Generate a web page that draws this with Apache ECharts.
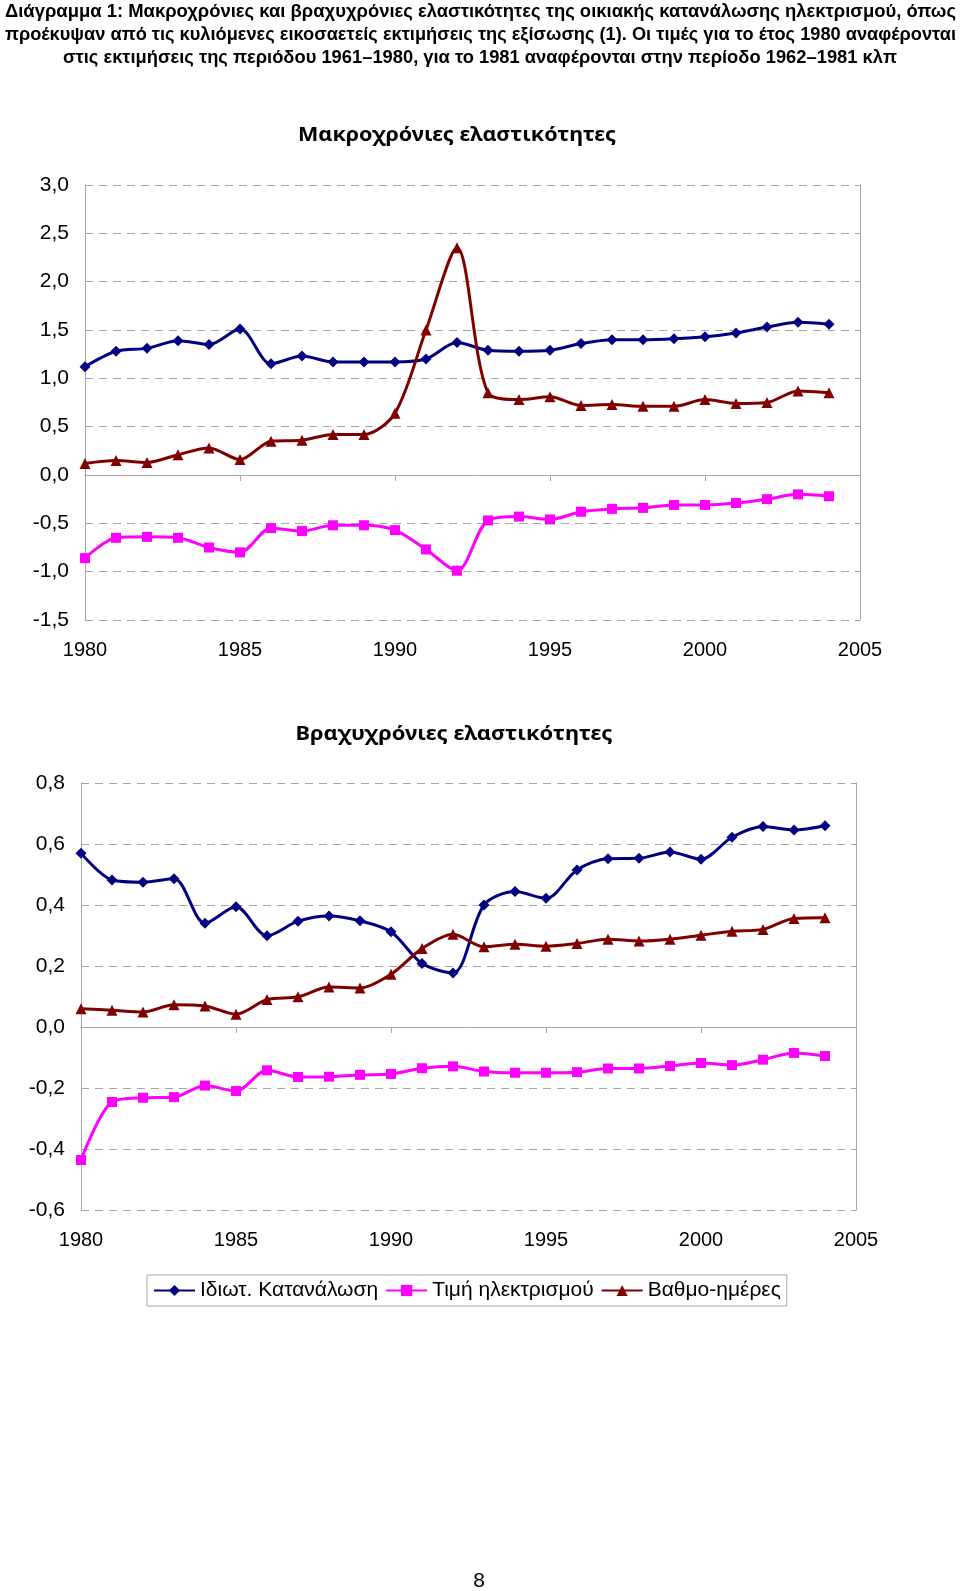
<!DOCTYPE html>
<html>
<head>
<meta charset="utf-8">
<script src="https://cdn.jsdelivr.net/npm/echarts@6/dist/echarts.min.js"></script>
<style>
html,body{margin:0;padding:0;background:#fff;}
#chart{width:960px;height:1591px;}
</style>
</head>
<body>
<div id="chart"></div>
<script>
const years = [1980,1981,1982,1983,1984,1985,1986,1987,1988,1989,1990,1991,1992,1993,1994,1995,1996,1997,1998,1999,2000,2001,2002,2003,2004];

const seriesNames = ['Ιδιωτ. Κατανάλωση', 'Τιμή ηλεκτρισμού', 'Βαθμο-ημέρες'];

// Long-run elasticities
const longConsumption = [1.12,1.28,1.31,1.39,1.35,1.51,1.15,1.23,1.17,1.17,1.17,1.20,1.37,1.29,1.28,1.29,1.36,1.40,1.40,1.41,1.43,1.47,1.53,1.58,1.56];
const longPrice = [-0.86,-0.65,-0.64,-0.65,-0.75,-0.80,-0.55,-0.58,-0.52,-0.52,-0.57,-0.77,-0.99,-0.47,-0.43,-0.46,-0.38,-0.35,-0.34,-0.31,-0.31,-0.29,-0.25,-0.20,-0.22];
const longDegreeDays = [0.12,0.15,0.13,0.21,0.28,0.16,0.35,0.36,0.42,0.42,0.64,1.50,2.35,0.85,0.78,0.81,0.72,0.73,0.71,0.71,0.78,0.74,0.75,0.87,0.85];

// Short-run elasticities
const shortConsumption = [0.570,0.482,0.475,0.486,0.340,0.394,0.299,0.347,0.364,0.348,0.312,0.208,0.177,0.400,0.444,0.422,0.515,0.552,0.553,0.574,0.550,0.622,0.657,0.646,0.660];
const shortPrice = [-0.436,-0.246,-0.232,-0.230,-0.192,-0.210,-0.142,-0.164,-0.163,-0.157,-0.154,-0.135,-0.129,-0.146,-0.150,-0.150,-0.148,-0.136,-0.136,-0.128,-0.118,-0.125,-0.107,-0.085,-0.095];
const shortDegreeDays = [0.060,0.055,0.049,0.073,0.069,0.042,0.090,0.099,0.131,0.128,0.173,0.257,0.304,0.263,0.271,0.265,0.274,0.288,0.282,0.288,0.301,0.314,0.320,0.356,0.358];

const headerLines = [
  'Διάγραμμα 1: Μακροχρόνιες και βραχυχρόνιες ελαστικότητες της οικιακής κατανάλωσης ηλεκτρισμού, όπως',
  'προέκυψαν από τις κυλιόμενες εικοσαετείς εκτιμήσεις της εξίσωσης (1). Οι τιμές για το έτος 1980 αναφέρονται',
  'στις εκτιμήσεις της περιόδου 1961–1980, για το 1981 αναφέρονται στην περίοδο 1962–1981 κλπ'
];
const topTitle = 'Μακροχρόνιες ελαστικότητες';
const bottomTitle = 'Βραχυχρόνιες ελαστικότητες';
const pageNumber = '8';

const FONT = '"Liberation Sans", Arial, sans-serif';
const TITLE_FONT_FAMILY = '"Noto Sans", "DejaVu Sans", sans-serif';
const colors = ['#000080', '#FF00FF', '#800000'];
const symbols = ['diamond', 'rect', 'triangle'];
const symbolSizes = [11, 10, 11];
const gridGray = '#a6a6a6';

function pairs(arr) { return years.map((y, i) => [y, arr[i]]); }
function fmt(v) { return v.toFixed(1).replace('.', ','); }

const measureCtx = document.createElement('canvas').getContext('2d');
function textWidth(t, font) { measureCtx.font = font; return measureCtx.measureText(t).width; }

const headerFont = 'bold 19px ' + FONT;
const headerSpecs = [
  {x: 5, y: 12, w: 951},
  {x: 5, y: 35, w: 951},
  {x: 63, y: 58, w: 834}
];
const graphics = headerLines.map((t, i) => {
  const s = headerSpecs[i];
  const w = textWidth(t, headerFont);
  return {
    type: 'text', x: s.x, y: s.y, scaleX: s.w / w,
    style: {text: t, font: headerFont, fill: '#000', align: 'left', verticalAlign: 'middle', textAlign: 'left', textVerticalAlign: 'middle'}
  };
});
const titleFont = 'bold 20px ' + TITLE_FONT_FAMILY;
function titleEl(text, cx, cy, targetW) {
  const w = textWidth(text, titleFont);
  const sx = targetW / w;
  return {type: 'text', x: cx - targetW / 2, y: cy, scaleX: sx,
    style: {text, font: titleFont, fill: '#000', align: 'left', verticalAlign: 'middle', textAlign: 'left', textVerticalAlign: 'middle'}};
}
graphics.push(titleEl(topTitle, 457, 135, 318));
graphics.push(titleEl(bottomTitle, 454, 734, 317));
graphics.push({type: 'text', x: 479, y: 1581, style: {text: pageNumber, font: '21px ' + FONT, fill: '#000', align: 'center', verticalAlign: 'middle', textAlign: 'center', textVerticalAlign: 'middle'}});

function xAxesFor(gridIndex) {
  return [
    {
      type: 'value', gridIndex, min: 1980, max: 2005, interval: 5, position: 'bottom',
      axisLine: {show: false, onZero: false}, axisTick: {show: false}, splitLine: {show: false},
      axisLabel: {fontSize: 20, fontFamily: FONT, color: '#000', margin: 20, formatter: v => String(v)}
    },
    {
      type: 'value', gridIndex, min: 1980, max: 2005, interval: 5, position: 'top',
      axisLine: {show: true, onZero: true, onZeroAxisIndex: gridIndex * 2, lineStyle: {color: gridGray, width: 1}},
      axisTick: {show: true, inside: true, length: 6, lineStyle: {color: gridGray}},
      axisLabel: {show: false}, splitLine: {show: false}
    }
  ];
}
function yAxesFor(gridIndex, min, max, interval) {
  return [
    {
      type: 'value', gridIndex, min, max, interval, position: 'left',
      axisLine: {show: true, onZero: false, lineStyle: {color: gridGray, width: 1}},
      axisTick: {show: false},
      axisLabel: {fontSize: 21, fontFamily: FONT, color: '#000', margin: 16, formatter: v => fmt(v)},
      splitLine: {show: true, lineStyle: {color: gridGray, width: 1, type: [8, 6]}}
    },
    {
      type: 'value', gridIndex, min, max, interval, position: 'right',
      axisLine: {show: true, onZero: false, lineStyle: {color: gridGray, width: 1}},
      axisTick: {show: false}, axisLabel: {show: false}, splitLine: {show: false}
    }
  ];
}

const topData = [longConsumption, longPrice, longDegreeDays];
const bottomData = [shortConsumption, shortPrice, shortDegreeDays];
const series = [];
[topData, bottomData].forEach((group, g) => {
  group.forEach((arr, k) => {
    series.push({
      name: seriesNames[k], type: 'line', xAxisIndex: g * 2, yAxisIndex: g * 2,
      data: pairs(arr), smooth: 0.3, symbol: symbols[k], symbolSize: symbolSizes[k],
      showSymbol: true, showAllSymbol: true,
      lineStyle: {color: colors[k], width: 3},
      itemStyle: {color: colors[k], borderWidth: 0},
      emphasis: {disabled: true}, animation: false
    });
  });
});

const option = {
  animation: false,
  backgroundColor: '#fff',
  textStyle: {fontFamily: FONT},
  graphic: graphics,
  grid: [
    {left: 85, right: 100, top: 185, height: 435, containLabel: false},
    {left: 81, right: 104, top: 783, height: 427, containLabel: false}
  ],
  xAxis: [...xAxesFor(0), ...xAxesFor(1)],
  yAxis: [...yAxesFor(0, -1.5, 3, 0.5), ...yAxesFor(1, -0.6, 0.8, 0.2)],
  legend: {
    data: seriesNames, left: 147, top: 1275, orient: 'horizontal',
    itemWidth: 41, itemHeight: 14, itemGap: 7,
    padding: [5, 6], borderColor: '#a6a6a6', borderWidth: 1,
    textStyle: {fontSize: 21, fontFamily: FONT, color: '#000'},
    selectedMode: false
  },
  series
};

const chart = echarts.init(document.getElementById('chart'), null, {renderer: 'canvas', width: 960, height: 1591});
chart.setOption(option);
</script>
</body>
</html>
